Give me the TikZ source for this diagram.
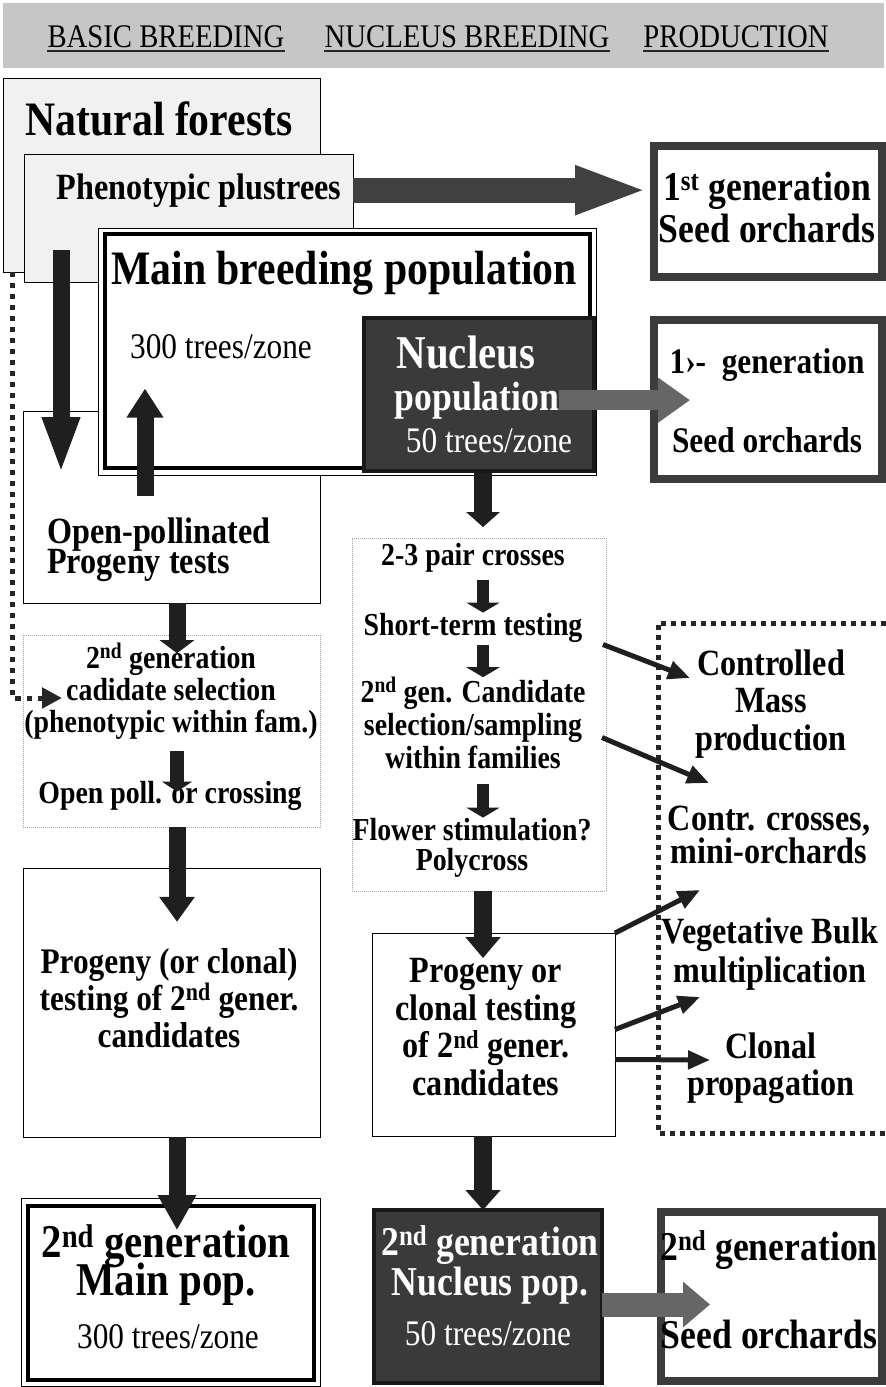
\documentclass[tikz,border=0pt]{standalone}
\usepackage{fontspec}
\setmainfont{Liberation Serif}[FakeStretch=0.87]
\usetikzlibrary{arrows.meta,calc}
\newcommand{\fs}[2]{\fontsize{#1}{#2}\selectfont\lineskiplimit=-100pt}
\definecolor{bandgray}{HTML}{C6C6C6}
\definecolor{lightbox}{HTML}{F1F1F1}
\definecolor{darkbox}{HTML}{3A3A3A}
\definecolor{rim}{HTML}{3C3C3C}
\definecolor{arrdark}{HTML}{404040}
\definecolor{arrmid}{HTML}{666666}
\begin{document}
\begin{tikzpicture}[x=1pt, y=-1pt,
    box/.style={draw, rectangle, outer sep=0pt, inner sep=0pt, line width=1pt},
    txt/.style={inner sep=0pt, anchor=base, align=center},
    fat/.style n args={3}{draw=black!88, line width=#1pt, -{Triangle[length=#2pt,width=#3pt]}},
    parrow/.style={draw=black!88, line width=5pt, -{Triangle[length=22pt,width=18pt]}},
    dotline/.style={draw=black!85, line width=5pt, dash pattern=on 5pt off 6pt, -{Triangle[length=20pt,width=20pt]}},
    proddots/.style={draw=black!85, line width=5pt, dash pattern=on 5pt off 5pt},
    uline/.style={draw=black!85, line width=2.5pt}]
    \path[use as bounding box] (0,0) rectangle (886,1387);

    % header
    \node[box, draw=none, fill=bandgray, minimum width=881pt, minimum height=65pt] (band) at (443.5,35.5) {};
    \node[txt, font=\fs{33}{36}] (hbasic) at (166,47) {BASIC BREEDING};
    \node[txt, font=\fs{33}{36}] (hnuc) at (467,47) {NUCLEUS BREEDING};
    \node[txt, font=\fs{33}{36}] (hprod) at (736,47) {PRODUCTION};
    \foreach \h in {hbasic,hnuc,hprod}
        \draw[uline] ($(\h.base west)+(0,4)$) -- ($(\h.base east)+(0,4)$);

    % basic breeding (multi-line texts sit on the base of their last line)
    \node[box, fill=lightbox, minimum width=317pt, minimum height=194pt] (nat) at (161.5,175) {};
    \node[txt, font=\fs{48}{50}\bfseries] (natT) at (159,135) {Natural forests};
    \node[box, fill=lightbox, minimum width=329pt, minimum height=128pt] (plus) at (188.5,218) {};
    \node[txt, font=\fs{37}{40}\bfseries] (phen) at (199,199) {Phenotypic plustrees};
    \node[box, fill=white, minimum width=297pt, minimum height=192pt] (opt) at (171.5,507) {};
    \node[txt, font=\fs{37}{30}\bfseries, anchor=base west, align=left] (opp) at (47,573) {Open-pollinated\\Progeny tests};
    \node[box, fill=white, minimum width=498pt, minimum height=247pt] (main) at (347,351.5) {};
    \draw[line width=4pt] ($(main.north west)+(7,6)$) rectangle ($(main.south east)+(-6,-7)$);
    \node[txt, font=\fs{48}{50}\bfseries] (mainT) at (344,284) {Main breeding population};
    \node[txt, font=\fs{36}{40}] (t300) at (221,358) {300 trees/zone};
    \node[box, draw=black!90, line width=4pt, fill=darkbox, minimum width=230pt, minimum height=153pt] (nucl) at (479,394.5) {};
    \node[txt, font=\fs{47}{50}\bfseries, white] (nucT) at (466,368) {Nucleus};
    \node[txt, font=\fs{41}{44}\bfseries, white] (pop) at (477,410) {population};
    \node[txt, font=\fs{36}{40}, white] (t50) at (489,452) {50 trees/zone};

    % seed orchards
    \node[box, draw=rim, line width=8pt, fill=white, minimum width=228pt, minimum height=131pt] (so1) at (768,211.5) {};
    \node[txt, font=\fs{41}{42}\bfseries] (so1T) at (767,242) {1\textsuperscript{st} generation\\Seed orchards};
    \node[box, draw=rim, line width=8pt, fill=white, minimum width=228pt, minimum height=159pt] (so2) at (768,399.5) {};
    \node[txt, font=\fs{36}{79}\bfseries] (so2T) at (767,452) {1›-\ \ generation\\Seed orchards};

    \node[box, draw=black!35, densely dotted, minimum width=297pt, minimum height=192pt] (sel) at (171.5,731) {};
    \node[txt, font=\fs{32}{32}\bfseries] (selT) at (171,732) {2\textsuperscript{nd} generation\\cadidate selection\\(phenotypic within fam.)};
    \node[txt, font=\fs{32}{32}\bfseries] (ocT) at (170,803) {Open poll. or crossing};
    \node[box, fill=white, minimum width=297pt, minimum height=269pt] (prog1) at (171.5,1002.5) {};
    \node[txt, font=\fs{36}{37}\bfseries] (p1T) at (169,1047) {Progeny (or clonal)\\testing of 2\textsuperscript{nd} gener.\\candidates};
    \node[box, fill=white, minimum width=299pt, minimum height=188pt] (main2) at (170.5,1292) {};
    \draw[line width=4pt] ($(main2.north west)+(7,8)$) rectangle ($(main2.south east)+(-6,-6)$);
    \node[txt, font=\fs{47}{38}\bfseries] (m2T) at (166,1295) {2\textsuperscript{nd} generation\\Main pop.};
    \node[txt, font=\fs{36}{40}] (m2n) at (168,1348) {300 trees/zone};

    % nucleus breeding
    \node[box, draw=black!35, densely dotted, minimum width=254pt, minimum height=353pt] (cross) at (479,714.5) {};
    \node[txt, font=\fs{32}{32}\bfseries] (pair) at (473,565) {2-3 pair crosses};
    \node[txt, font=\fs{32}{32}\bfseries] (short) at (473,635) {Short-term testing};
    \node[txt, font=\fs{32}{33}\bfseries] (cand) at (473,768) {2\textsuperscript{nd} gen. Candidate\\selection/sampling\\within families};
    \node[txt, font=\fs{32}{30}\bfseries] (flow) at (472,870) {Flower stimulation?\\Polycross};
    \node[box, fill=white, minimum width=243pt, minimum height=203pt] (prog2) at (493.5,1034.5) {};
    \node[txt, font=\fs{37}{37.5}\bfseries] (p2T) at (486,1095) {Progeny or\\clonal testing\\of 2\textsuperscript{nd} gener.\\candidates};
    \node[box, draw=black!90, line width=4pt, fill=darkbox, minimum width=228pt, minimum height=173pt] (nuc2) at (488,1296.5) {};
    \node[txt, font=\fs{41}{40}\bfseries, white] (n2T) at (490,1295) {2\textsuperscript{nd} generation\\Nucleus pop.};
    \node[txt, font=\fs{36}{40}, white] (n2n) at (488,1345) {50 trees/zone};
    \node[box, draw=rim, line width=8pt, fill=white, minimum width=221pt, minimum height=169pt] (so3) at (771.5,1296.5) {};
    \node[txt, font=\fs{41}{88}\bfseries] (so3T) at (769,1348) {2\textsuperscript{nd} generation\\Seed orchards};

    % production
    \draw[proddots] (886,623) -- (658,623) -- (658,1133) -- (886,1133);
    \node[txt, font=\fs{37}{37.5}\bfseries] (ctrl) at (771,750) {Controlled\\Mass\\production};
    \node[txt, font=\fs{37}{33}\bfseries] (contr) at (769,863) {Contr. crosses,\\mini-orchards};
    \node[txt, font=\fs{37}{39}\bfseries] (veg) at (770,982) {Vegetative Bulk\\multiplication};
    \node[txt, font=\fs{37}{37}\bfseries] (clon) at (771,1095) {Clonal\\propagation};

    \coordinate (dl) at (12.5,0);
    \coordinate (dn) at (61,0);
    \coordinate (up) at (145,0);
    \coordinate (lc) at (177,0);
    \coordinate (mc) at (483,0);
    \coordinate (dotEnd) at (62,698);
    \coordinate (tipA) at (690,678);
    \coordinate (tipB) at (709,783);
    \coordinate (tipC) at (700,890);
    \coordinate (tipD) at (700,997);
    \coordinate (tipE) at (710,1060);

    % connectors
    \draw[dotline] (nat.south -| dl) |- (dotEnd);
    \draw[fat={25}{73}{44}, draw=arrdark, shorten >=6pt] (plus.east |- phen) -- (so1.west |- phen);
    \draw[fat={17}{57}{34}, shorten <=43pt, shorten >=43pt] (phen.south -| dn) -- (opp.north -| dn);
    \draw[fat={17}{29}{35}, shorten <=21pt, shorten >=30pt] (opp.north -| up) -- (t300.south -| up);
    \draw[fat={20}{32}{43}, draw=arrmid] (pop.east) -- ($(so2.west |- pop)+(36,0)$);
    \draw[fat={18}{15}{33}, shorten <=2pt, shorten >=11pt] (nucl.south -| mc) -- (cross.north -| mc);
    \draw[fat={12}{10}{33}, shorten <=8pt] (pair.south -| mc) -- (short.north -| mc);
    \draw[fat={12}{10}{33}, shorten <=3pt] (short.south -| mc) -- (cand.north -| mc);
    \draw[fat={12}{10}{33}, shorten <=15pt] (cand.south -| mc) -- (flow.north -| mc);
    \draw[fat={18}{21}{34}] (cross.south -| mc) -- (p2T.north -| mc);
    \draw[fat={18}{20}{34}] (prog2.south -| mc) -- (nuc2.north -| mc);
    \draw[fat={24}{27}{44}, draw=arrmid] ($(nuc2.east)+(0,8)$) -- ($(so3.west)+(49,8)$);
    \draw[fat={17}{13}{34}, shorten >=-10pt] (opt.south -| lc) -- (selT.north -| lc);
    \draw[fat={14}{10}{30}, shorten <=12pt, shorten >=-11pt] (selT.south -| lc) -- (ocT.north -| lc);
    \draw[fat={17}{25}{34}, shorten >=26pt] (sel.south -| lc) -- (p1T.north -| lc);
    \draw[fat={17}{35}{36}, shorten >=-6pt] (prog1.south -| lc) -- (m2T.north -| lc);
    \draw[parrow] ($(cross.east)+(-3,-70)$) -- (tipA);
    \draw[parrow] ($(cross.east)+(-4,23)$) -- (tipB);
    \draw[parrow] (prog2.north east) -- (tipC);
    \draw[parrow] ($(prog2.east)+(0,-5)$) -- (tipD);
    \draw[parrow] ($(prog2.east)+(0,25)$) -- (tipE);
\end{tikzpicture}
\end{document}
